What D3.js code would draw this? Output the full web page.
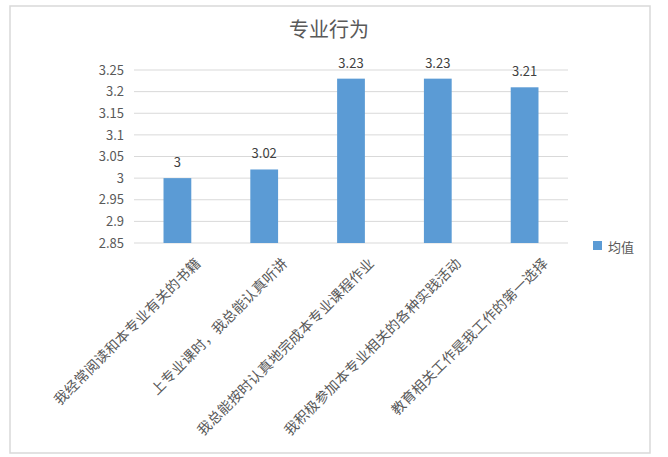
<!DOCTYPE html>
<html>
<head>
<meta charset="utf-8">
<script src="https://cdn.jsdelivr.net/npm/d3@7"></script>
<style>
  body { margin: 0; background: #fff; }
  svg { display: block; font-family: "Noto Sans CJK SC", "Noto Sans", sans-serif; }
</style>
</head>
<body>
<div id="chart"></div>
<script>
const title = '专业行为';
const seriesName = '均值';
const categories = [
  '我经常阅读和本专业有关的书籍',
  '上专业课时，我总能认真听讲',
  '我总能按时认真地完成本专业课程作业',
  '我积极参加本专业相关的各种实践活动',
  '教育相关工作是我工作的第一选择'
];
const values = [3, 3.02, 3.23, 3.23, 3.21];
const yTicks = [2.85, 2.9, 2.95, 3, 3.05, 3.1, 3.15, 3.2, 3.25];

const width = 668, height = 457;
const plot = { left: 134, right: 568, top: 70, bottom: 243 };

const svg = d3.select('#chart').append('svg')
  .attr('width', width)
  .attr('height', height);

// chart border
svg.append('rect')
  .attr('x', 10).attr('y', 6)
  .attr('width', 640).attr('height', 447)
  .attr('fill', '#fff')
  .attr('stroke', '#d9d9d9')
  .attr('stroke-width', 1.5);

svg.append('text')
  .attr('x', 329).attr('y', 37)
  .attr('text-anchor', 'middle')
  .attr('font-size', 20)
  .attr('fill', '#595959')
  .text(title);

const x = d3.scaleBand()
  .domain(categories)
  .range([plot.left, plot.right])
  .paddingInner(0.68)
  .paddingOuter(0.34);

const y = d3.scaleLinear()
  .domain([2.85, 3.25])
  .range([plot.bottom, plot.top]);

// gridlines
svg.append('g')
  .selectAll('line')
  .data(yTicks)
  .join('line')
  .attr('x1', plot.left).attr('x2', plot.right)
  .attr('y1', d => y(d)).attr('y2', d => y(d))
  .attr('stroke', '#d9d9d9')
  .attr('stroke-width', 1);

// y axis labels
const yAxis = d3.axisLeft(y).tickValues(yTicks).tickSize(0).tickPadding(10).tickFormat(d => d3.format('')(+d.toFixed(2)));
svg.append('g')
  .attr('transform', `translate(${plot.left},0)`)
  .call(yAxis)
  .call(g => g.select('.domain').remove())
  .call(g => g.selectAll('text')
    .attr('font-size', 13)
    .attr('font-family', '"Noto Sans CJK SC", sans-serif')
    .attr('fill', '#595959'));

// bars
svg.append('g')
  .selectAll('rect')
  .data(values)
  .join('rect')
  .attr('x', (d, i) => x(categories[i]))
  .attr('y', d => y(d))
  .attr('width', x.bandwidth())
  .attr('height', d => plot.bottom - y(d))
  .attr('fill', '#5b9bd5');

// value labels
svg.append('g')
  .selectAll('text')
  .data(values)
  .join('text')
  .attr('x', (d, i) => x(categories[i]) + x.bandwidth() / 2)
  .attr('y', d => y(d) - 11)
  .attr('text-anchor', 'middle')
  .attr('font-size', 13)
  .attr('fill', '#404040')
  .text(d => d);

// category labels, rotated -45
svg.append('g')
  .selectAll('text')
  .data(categories)
  .join('text')
  .attr('transform', d => `translate(${x(d) + x.bandwidth() / 2 + 20},260) rotate(-45)`)
  .attr('text-anchor', 'end')
  .attr('dominant-baseline', 'central')
  .attr('font-size', 14)
  .attr('letter-spacing', 0.3)
  .attr('fill', '#595959')
  .text(d => d);

// legend
const legend = svg.append('g').attr('transform', 'translate(593,241)');
legend.append('rect')
  .attr('width', 9).attr('height', 9)
  .attr('fill', '#5b9bd5');
legend.append('text')
  .attr('x', 15).attr('y', 5)
  .attr('dominant-baseline', 'central')
  .attr('font-size', 13)
  .attr('fill', '#595959')
  .text(seriesName);
</script>
</body>
</html>
